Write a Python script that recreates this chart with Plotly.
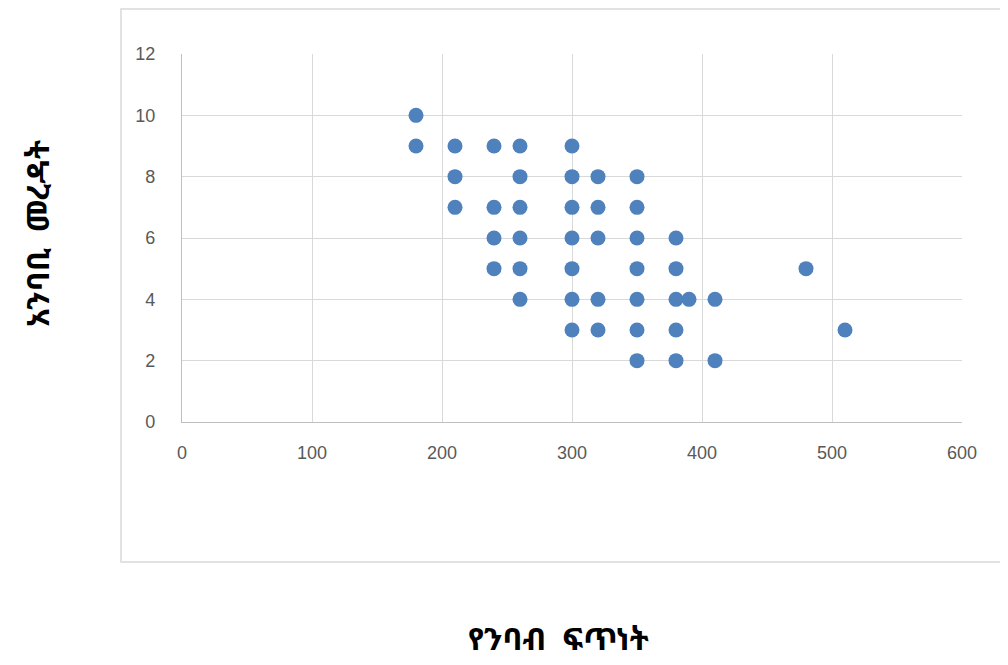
import plotly.graph_objects as go

# Reading speed (x) and comprehension (y)
reading_speed = [
    180, 180,
    210, 210, 210,
    240, 240, 240, 240,
    260, 260, 260, 260, 260, 260,
    300, 300, 300, 300, 300, 300, 300,
    320, 320, 320, 320, 320,
    350, 350, 350, 350, 350, 350, 350,
    380, 380, 380, 380, 380,
    390,
    410, 410,
    480,
    510,
]
comprehension = [
    10, 9,
    9, 8, 7,
    9, 7, 6, 5,
    9, 8, 7, 6, 5, 4,
    9, 8, 7, 6, 5, 4, 3,
    8, 7, 6, 4, 3,
    8, 7, 6, 5, 4, 3, 2,
    6, 5, 4, 3, 2,
    4,
    4, 2,
    5,
    3,
]
x_ticks = [0, 100, 200, 300, 400, 500, 600]
y_ticks = [0, 2, 4, 6, 8, 10, 12]
x_title = "የንባብ ፍጥነት"
y_title = "አንባቢ መረዳት"

OFF = 8  # page body margin
W, H = 1000, 657
L, T = 182 - OFF, 54 - OFF
pw, ph = 780, 368
R = W - L - pw
B = H - T - ph

def px_x(p):
    return (p - OFF - L) / pw

def px_y(p):
    return (H - B - (p - OFF)) / ph

fig = go.Figure(go.Scatter(
    x=reading_speed, y=comprehension, mode="markers",
    marker=dict(size=15, color="#4F81BD", line=dict(width=0)),
    showlegend=False,
))

tickfont = dict(family="Liberation Sans Narrow, Arial Narrow, sans-serif", size=18, color="#595959")
fig.update_xaxes(range=[0, 600], tickvals=x_ticks, showgrid=True, gridcolor="#D9D9D9", gridwidth=1.3,
                 zeroline=False, showline=True, linecolor="#BFBFBF", linewidth=1.3,
                 tickfont=tickfont, ticks="", ticklabelstandoff=14, fixedrange=True)
fig.update_yaxes(range=[0, 12], tickvals=y_ticks, showgrid=True, gridcolor="#D9D9D9", gridwidth=1.3,
                 zeroline=False, showline=True, linecolor="#BFBFBF", linewidth=1.3,
                 tickfont=tickfont, ticks="", ticklabelstandoff=22, fixedrange=True)

fig.add_shape(type="rect", xref="paper", yref="paper",
              x0=px_x(121), x1=px_x(1002), y0=px_y(562), y1=px_y(9),
              line=dict(color="#D9D9D9", width=1.5), layer="below")

title_font = dict(family="Noto Sans Ethiopic, Abyssinica SIL, DejaVu Sans, serif", size=31, color="#000000")
fig.add_annotation(text="<b>" + x_title.replace(" ", "&nbsp;&nbsp;") + "</b>", xref="paper", yref="paper",
                   x=px_x(558), y=px_y(638), showarrow=False, font=title_font,
                   xanchor="center", yanchor="middle")
fig.add_annotation(text="<b>" + y_title.replace(" ", "&nbsp;&nbsp;") + "</b>", xref="paper", yref="paper",
                   x=px_x(37), y=px_y(234), showarrow=False, font=title_font, textangle=-90,
                   xanchor="center", yanchor="middle")

fig.update_layout(width=W, height=H, margin=dict(l=L, r=R, t=T, b=B, pad=0),
                  plot_bgcolor="white", paper_bgcolor="white")

fig.write_html("out.html")
